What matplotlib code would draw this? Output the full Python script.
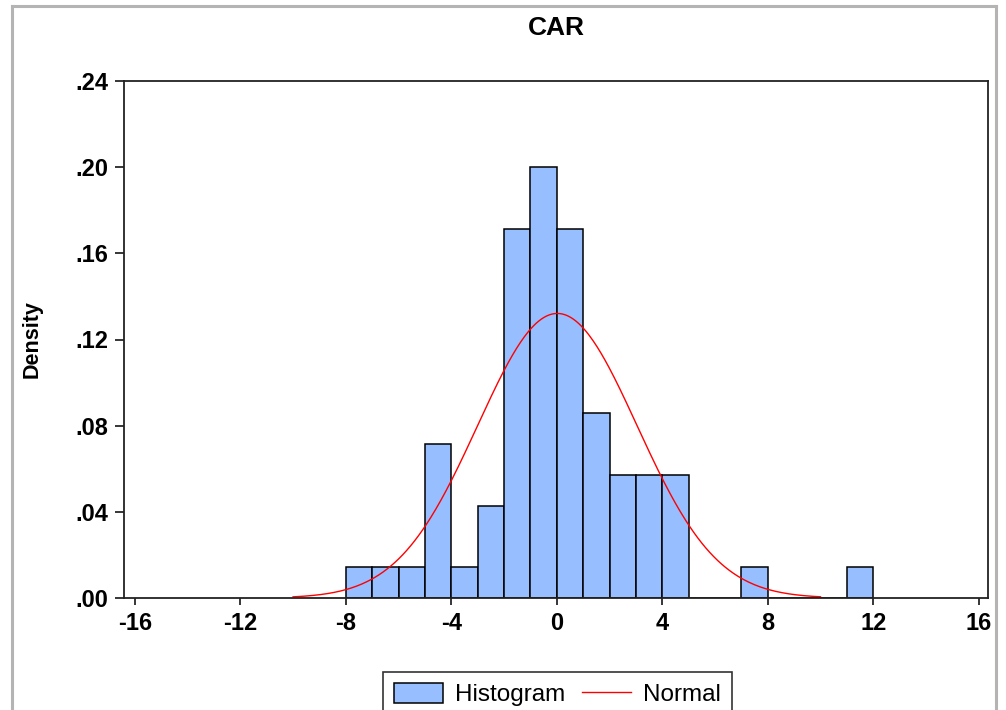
import matplotlib
matplotlib.use("Agg")
import matplotlib.pyplot as plt
import numpy as np

# histogram data (bin width 1, density scale, n = 70)
bin_left = [-8, -7, -6, -5, -4, -3, -2, -1, 0, 1, 2, 3, 4, 5, 6, 7, 8, 9, 10, 11]
counts = [1, 1, 1, 5, 1, 3, 12, 14, 12, 6, 4, 4, 4, 0, 0, 1, 0, 0, 0, 1]
n_obs = 70
density = [c / n_obs for c in counts]

# fitted normal
mu = 0.02
sigma = 3.02
x_lo, x_hi = -10, 10

xticks = [-16, -12, -8, -4, 0, 4, 8, 12, 16]
yticks = [0.00, 0.04, 0.08, 0.12, 0.16, 0.20, 0.24]
ytick_labels = [".00", ".04", ".08", ".12", ".16", ".20", ".24"]

plt.rcParams['font.family'] = ['Liberation Sans', 'DejaVu Sans']

W, H = 1006, 710
fig = plt.figure(figsize=(W / 100, H / 100), dpi=100)

# gray outer frame
fig.add_artist(plt.Line2D([12 / W, 12 / W], [0, 1 - 6 / H], color="#b4b4b4", lw=2.2))
fig.add_artist(plt.Line2D([12 / W, 996 / W], [1 - 6 / H, 1 - 6 / H], color="#b4b4b4", lw=2.2))
fig.add_artist(plt.Line2D([996 / W, 996 / W], [0, 1 - 6 / H], color="#b4b4b4", lw=2.2))

ax = fig.add_axes([124 / W, 1 - 598 / H, (988 - 124) / W, (598 - 81) / H])

bars = ax.bar(bin_left, density, width=1, align="edge", color="#97BEFF",
              edgecolor="black", linewidth=1.1, label="Histogram")

xs = np.linspace(x_lo, x_hi, 400)
pdf = np.exp(-0.5 * ((xs - mu) / sigma) ** 2) / (sigma * np.sqrt(2 * np.pi))
line, = ax.plot(xs, pdf, color="red", lw=1.0, label="Normal")

ax.set_xlim(-16.41, 16.35)
ax.set_ylim(0, 0.24)
ax.set_xticks(xticks)
ax.set_xticklabels([str(t) for t in xticks], fontweight="bold", fontsize=17)
ax.set_yticks(yticks)
ax.set_yticklabels(ytick_labels, fontweight="bold", fontsize=17)
ax.tick_params(axis="x", direction="out", length=5, width=1.1, pad=5)
ax.tick_params(axis="y", direction="out", length=6.5, width=1.1, pad=5)
for s in ax.spines.values():
    s.set_linewidth(1.3)
    s.set_color("#222222")

ax.set_ylabel("Density", fontsize=15.5, fontweight="bold")
ax.yaxis.set_label_coords((43 - 124) / (988 - 124), 0.5)
fig.text(556 / W, 1 - 28 / H, "CAR", ha="center", va="center",
         fontsize=19, fontweight="bold")

leg = ax.legend([bars, line], ["Histogram", "Normal"],
                loc="upper center", bbox_to_anchor=(557.5 / W, 1 - 672 / H),
                bbox_transform=fig.transFigure, ncol=2, frameon=True,
                fancybox=False, fontsize=17.5, handlelength=2.0, handleheight=0.9,
                columnspacing=0.7, handletextpad=0.5, borderpad=0.45,
                borderaxespad=0)
leg.get_frame().set_edgecolor("black")
leg.get_frame().set_linewidth(1.2)

fig.savefig("out.png", dpi=100)
